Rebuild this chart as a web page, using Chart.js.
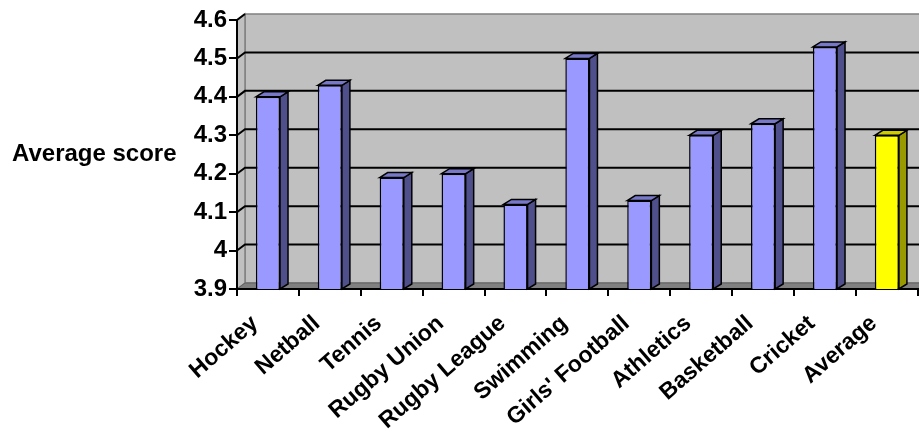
<!DOCTYPE html>
<html>
<head>
<meta charset="utf-8">
<script src="https://cdn.jsdelivr.net/npm/chart.js@4.4.1/dist/chart.umd.min.js"></script>
<style>
  html, body { margin: 0; padding: 0; background: #fff; }
  #wrap { width: 919px; height: 435px; }
</style>
</head>
<body>
<div id="wrap"><canvas id="sportsChart"></canvas></div>
<script>
// Values
const categories = ['Hockey', 'Netball', 'Tennis', 'Rugby Union', 'Rugby League', 'Swimming',
  "Girls' Football", 'Athletics', 'Basketball', 'Cricket', 'Average'];
const scores = [4.40, 4.43, 4.19, 4.20, 4.12, 4.50, 4.13, 4.30, 4.33, 4.53, 4.30];
const yTicks = [3.9, 4.0, 4.1, 4.2, 4.3, 4.4, 4.5, 4.6];
const yTitle = 'Average score';

// look of the fake 3d
const WALL = { dx: 8, dy: -6 };
const BAR = { dx: 8, dy: -5 };
const FONT = 'Liberation Sans, Arial, sans-serif';

function faceColors(name) {
  if (name === 'Average') return { front: '#FFFF00', side: '#999900', top: '#CCCC00' };
  return { front: '#9999FF', side: '#4F4F8C', top: '#7878C8' };
}

// back wall, side wall, floor and gridlines behind everything
const wallsPlugin = {
  id: 'walls',
  beforeDraw(chart) {
    const { ctx, chartArea: a, scales: { y } } = chart;
    const W = chart.width;
    ctx.save();
    ctx.lineJoin = 'miter';

    // back wall
    ctx.fillStyle = '#C0C0C0';
    ctx.fillRect(a.left + WALL.dx, a.top + WALL.dy, W - a.left - WALL.dx, a.bottom - a.top);
    ctx.strokeStyle = '#808080';
    ctx.lineWidth = 1.5;
    ctx.strokeRect(a.left + WALL.dx, a.top + WALL.dy, W - a.left - WALL.dx + 5, a.bottom - a.top);

    // left side wall
    ctx.beginPath();
    ctx.moveTo(a.left, a.bottom);
    ctx.lineTo(a.left, a.top);
    ctx.lineTo(a.left + WALL.dx, a.top + WALL.dy);
    ctx.lineTo(a.left + WALL.dx, a.bottom + WALL.dy);
    ctx.closePath();
    ctx.fillStyle = '#C0C0C0';
    ctx.fill();
    ctx.stroke();

    // floor
    ctx.beginPath();
    ctx.moveTo(a.left, a.bottom);
    ctx.lineTo(a.right, a.bottom);
    ctx.lineTo(a.right + WALL.dx, a.bottom + WALL.dy);
    ctx.lineTo(a.left + WALL.dx, a.bottom + WALL.dy);
    ctx.closePath();
    ctx.fillStyle = '#808080';
    ctx.fill();
    ctx.strokeStyle = '#606060';
    ctx.lineWidth = 1;
    ctx.stroke();

    // gridlines on the walls
    ctx.strokeStyle = '#000';
    ctx.lineWidth = 2;
    yTicks.forEach(v => {
      if (v === yTicks[0]) return;
      const py = y.getPixelForValue(v);
      ctx.beginPath();
      ctx.moveTo(a.left, py);
      ctx.lineTo(a.left + WALL.dx, py + WALL.dy);
      if (v !== yTicks[yTicks.length - 1]) ctx.lineTo(W, py + WALL.dy);
      ctx.stroke();
    });
    ctx.restore();
  }
};

// side and top faces of each bar
const barDepthPlugin = {
  id: 'barDepth',
  afterDatasetsDraw(chart) {
    const { ctx, chartArea: a } = chart;
    const meta = chart.getDatasetMeta(0);
    ctx.save();
    ctx.strokeStyle = '#000';
    ctx.lineWidth = 1.5;
    ctx.lineJoin = 'miter';
    meta.data.forEach((bar, i) => {
      const p = bar.getProps(['x', 'y', 'base', 'width'], true);
      const l = p.x - p.width / 2, r = p.x + p.width / 2;
      const base = Math.min(p.base, a.bottom);
      const c = faceColors(categories[i]);
      // side
      ctx.beginPath();
      ctx.moveTo(r, p.y);
      ctx.lineTo(r + BAR.dx, p.y + BAR.dy);
      ctx.lineTo(r + BAR.dx, base + BAR.dy);
      ctx.lineTo(r, base);
      ctx.closePath();
      ctx.fillStyle = c.side;
      ctx.fill();
      ctx.stroke();
      // top
      ctx.beginPath();
      ctx.moveTo(l, p.y);
      ctx.lineTo(l + BAR.dx, p.y + BAR.dy);
      ctx.lineTo(r + BAR.dx, p.y + BAR.dy);
      ctx.lineTo(r, p.y);
      ctx.closePath();
      ctx.fillStyle = c.top;
      ctx.fill();
      ctx.stroke();
    });
    ctx.restore();
  }
};

// horizontal y title on the left
const yTitlePlugin = {
  id: 'yTitle',
  afterDraw(chart) {
    const { ctx, chartArea: a } = chart;
    ctx.save();
    ctx.font = 'bold 24px ' + FONT;
    ctx.fillStyle = '#000';
    ctx.textAlign = 'left';
    ctx.textBaseline = 'middle';
    ctx.fillText(yTitle, 12, (a.top + a.bottom) / 2);
    ctx.restore();
  }
};

const ctx = document.getElementById('sportsChart').getContext('2d');
new Chart(ctx, {
  type: 'bar',
  data: {
    labels: categories,
    datasets: [{
      label: yTitle,
      data: scores,
      backgroundColor: categories.map(c => faceColors(c).front),
      borderColor: '#000',
      borderWidth: 1.5,
      borderSkipped: false,
      barPercentage: 0.39,
      categoryPercentage: 1.0
    }]
  },
  options: {
    responsive: true,
    maintainAspectRatio: false,
    animation: false,
    layout: { padding: { top: 20, right: 1, left: 0, bottom: 0 } },
    plugins: {
      legend: { display: false },
      tooltip: { enabled: false }
    },
    scales: {
      x: {
        offset: true,
        grid: { display: true, drawOnChartArea: false, drawTicks: true, tickLength: 7, color: '#000', lineWidth: 2, offset: true },
        border: { display: true, color: '#000', width: 2 },
        ticks: {
          color: '#000',
          font: { family: FONT, size: 23, weight: 'bold' },
          maxRotation: 41,
          minRotation: 41,
          autoSkip: false,
          padding: 14,
          labelOffset: -13
        },
        afterFit(scale) { scale.height = 146; }
      },
      y: {
        min: yTicks[0],
        max: yTicks[yTicks.length - 1],
        afterBuildTicks(scale) { scale.ticks = yTicks.map(v => ({ value: v })); },
        grid: { display: true, drawOnChartArea: false, drawTicks: true, tickLength: 8, color: '#000', lineWidth: 2 },
        border: { display: true, color: '#000', width: 2 },
        ticks: {
          color: '#000',
          font: { family: FONT, size: 24, weight: 'bold' },
          padding: 2,
          callback: v => String(Math.round(v * 10) / 10)
        },
        afterFit(scale) { scale.width = 237; }
      }
    }
  },
  plugins: [wallsPlugin, barDepthPlugin, yTitlePlugin]
});
</script>
</body>
</html>
